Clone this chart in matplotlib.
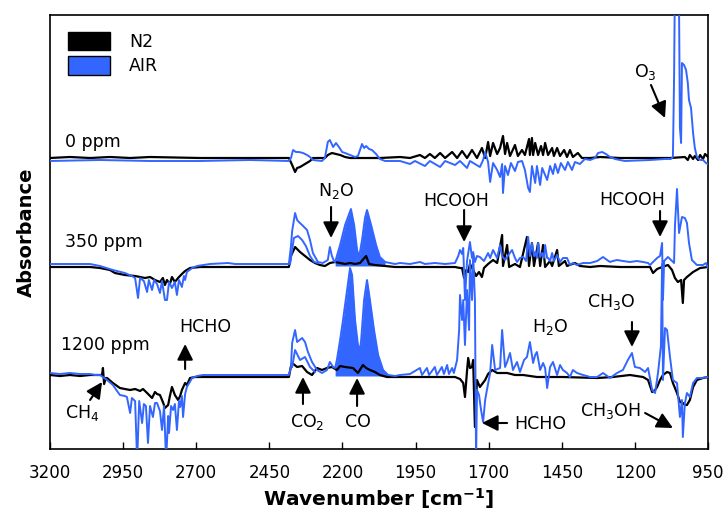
import numpy as np
import matplotlib.pyplot as plt
from matplotlib.patches import Patch

plt.rcParams['font.family'] = 'DejaVu Sans'
plt.rcParams['mathtext.default'] = 'regular'

BLUE = '#3366ff'

# columns: wavenumber [cm-1], absorbance [mAU] relative to the trace baseline
n2_0ppm = np.array([
    (3200, 0), (3132, 1), (3063, 0), (2995, 1), (2926, 0), (2858, 1), (2687, 0), (2516, 0),
    (2383, 0), (2372, -7), (2362, -14), (2355, -10), (2345, -9), (2328, -6), (2311, -3),
    (2301, 0), (2260, 0), (2250, 3), (2236, 5), (2222, 4), (2208, 3), (2191, 1), (2174, 0),
    (2072, 0), (2003, 1), (1969, 0), (1935, 3), (1918, 0), (1901, 4), (1884, 0), (1866, 5),
    (1849, 0), (1825, 6), (1808, 0), (1791, 7), (1774, 0), (1757, 8), (1740, 0), (1723, 10),
    (1712, 0), (1702, 16), (1695, 2), (1685, 15), (1671, 4), (1661, 10), (1651, 22), (1644, 4),
    (1637, 15), (1627, 2), (1610, 13), (1600, 2), (1586, 8), (1576, 3), (1562, 19), (1559, 3),
    (1552, 20), (1548, 3), (1541, 15), (1531, 3), (1521, 12), (1514, 3), (1507, 15), (1497, 3),
    (1483, 10), (1477, 2), (1466, 10), (1456, 2), (1442, 8), (1432, 1), (1422, 8), (1412, 1),
    (1395, 5), (1381, 0), (1353, 0), (1319, 1), (1251, 0), (1148, 0), (1080, 0), (1029, 1),
    (1019, -2), (1012, 3), (1001, -1), (995, 2), (984, -2), (977, 3), (967, -1), (960, 4), (950, 1),
])

air_0ppm = np.array([
    (3200, -3), (3029, -2), (2858, -3), (2687, -3), (2516, -2), (2383, -3), (2376, 0), (2369, 8),
    (2359, 6), (2349, 6), (2335, 5), (2321, 3), (2311, 1), (2301, -2), (2270, -3), (2260, 0),
    (2250, 16), (2243, 18), (2232, 11), (2222, 15), (2212, 11), (2201, 6), (2191, 5), (2174, 3),
    (2157, 1), (2147, 2), (2133, 14), (2126, 10), (2119, 12), (2109, 9), (2099, 8), (2085, 4),
    (2072, -1), (2054, -3), (2003, -3), (1969, -6), (1952, -3), (1918, -8), (1901, -3), (1866, -9),
    (1849, -3), (1815, -7), (1798, -3), (1774, -10), (1764, -3), (1730, -9), (1719, -2), (1712, 6),
    (1702, -4), (1695, -24), (1685, -5), (1671, -12), (1661, -19), (1654, -6), (1651, -35),
    (1644, -8), (1634, -17), (1624, -5), (1610, -13), (1600, -4), (1586, -3), (1576, -12),
    (1565, -30), (1559, -34), (1552, -8), (1541, -25), (1535, -8), (1524, -27), (1517, -10),
    (1500, -22), (1490, -8), (1480, -16), (1473, -6), (1463, -15), (1453, -5), (1439, -12),
    (1429, -4), (1415, -12), (1405, -4), (1388, -6), (1371, -1), (1353, -2), (1336, 0), (1326, 5),
    (1312, 6), (1299, 4), (1285, 1), (1268, -1), (1234, -3), (1148, -2), (1097, -1), (1077, -1),
    (1070, 1), (1066, 80), (1063, 180), (1053, 180), (1049, 150), (1046, 30), (1042, 15),
    (1039, 95), (1032, 93), (1025, 88), (1019, 75), (1015, 58), (1008, 50), (1001, 25), (995, 10),
    (988, 1), (977, -2), (967, -2), (957, -5), (950, -6),
])

n2_350ppm = np.array([
    (3200, -1), (3063, -1), (3029, -2), (2995, -4), (2978, -7), (2944, -9), (2909, -10),
    (2875, -12), (2858, -11), (2841, -14), (2824, -16), (2814, -12), (2807, -19), (2800, -14),
    (2790, -18), (2783, -11), (2773, -16), (2762, -12), (2749, -8), (2738, -5), (2721, -2),
    (2687, -1), (2516, -1), (2383, -1), (2376, 10), (2362, 19), (2345, 14), (2328, 10), (2311, 6),
    (2294, 3), (2277, 1), (2260, 0), (2243, 3), (2225, 4), (2208, 3), (2191, 2), (2174, 3),
    (2157, 2), (2140, 3), (2119, 10), (2109, 2), (2089, 1), (2054, 0), (2020, -1), (1935, -1),
    (1866, -1), (1815, -1), (1798, -2), (1791, -2), (1784, -12), (1777, -4), (1770, -6),
    (1764, 2), (1753, -4), (1743, -10), (1733, -6), (1723, -11), (1716, -2), (1702, 2), (1685, 6),
    (1671, 3), (1654, 31), (1651, 0), (1637, 21), (1630, -1), (1610, 2), (1593, -1), (1569, 29),
    (1562, 0), (1552, 23), (1545, 0), (1531, 23), (1524, 0), (1514, 21), (1507, -1), (1490, 5),
    (1483, 0), (1466, 16), (1460, 0), (1439, 5), (1432, 0), (1405, 3), (1388, 0), (1353, -1),
    (1319, 0), (1251, -1), (1183, -1), (1148, -1), (1138, -7), (1124, -3), (1107, -1), (1087, 1),
    (1073, -4), (1063, -12), (1053, -16), (1042, -14), (1036, -37), (1032, -14), (1022, -11),
    (1001, -6), (977, -2), (950, -1),
])

air_350ppm = np.array([
    (3200, 2), (3063, 2), (3029, 0), (2985, -4), (2944, -7), (2920, -10), (2909, -12),
    (2899, -32), (2892, -12), (2879, -15), (2868, -26), (2862, -14), (2851, -24), (2844, -14),
    (2834, -18), (2824, -27), (2817, -15), (2807, -34), (2800, -34), (2793, -16), (2783, -22),
    (2773, -16), (2766, -29), (2759, -14), (2749, -21), (2742, -10), (2738, -14), (2732, -6),
    (2714, -2), (2697, 0), (2653, 2), (2591, 3), (2567, 2), (2516, 2), (2383, 2), (2376, 20),
    (2372, 35), (2362, 53), (2355, 46), (2349, 44), (2338, 41), (2328, 38), (2321, 36),
    (2311, 26), (2301, 13), (2284, 4), (2267, 3), (2250, 6), (2243, 19), (2236, 10), (2229, 5),
    (2225, 4), (2208, 21), (2191, 41), (2171, 57), (2160, 41), (2150, 16), (2143, 9), (2133, 26),
    (2123, 48), (2116, 56), (2102, 41), (2085, 21), (2072, 9), (2054, 4), (2037, 3), (2020, 2),
    (2003, 3), (1969, 2), (1935, 4), (1918, 2), (1884, 3), (1849, 2), (1815, 3), (1804, 10),
    (1798, 16), (1791, 12), (1787, 18), (1781, -34), (1774, 5), (1764, 24), (1757, 8),
    (1753, 14), (1747, 4), (1740, 10), (1730, 9), (1716, 5), (1702, 13), (1695, 8), (1685, 16),
    (1671, 8), (1661, 21), (1654, 10), (1644, 6), (1630, 12), (1620, 16), (1610, 8), (1603, 4),
    (1593, 8), (1582, 9), (1572, 5), (1565, 29), (1559, 10), (1552, 23), (1545, 10), (1541, 14),
    (1535, 8), (1531, 23), (1524, 9), (1517, 13), (1511, 8), (1507, 21), (1500, 8), (1497, 8),
    (1490, 5), (1483, 13), (1477, 5), (1466, 11), (1456, 4), (1446, 8), (1432, 8), (1422, 1),
    (1412, 3), (1398, 1), (1377, 3), (1353, 3), (1329, 5), (1309, 9), (1295, 6), (1285, 4),
    (1275, 5), (1261, 6), (1241, 5), (1217, 4), (1193, 5), (1172, 4), (1155, 3), (1148, 1),
    (1138, 4), (1124, 8), (1114, 10), (1107, 23), (1104, -34), (1100, 5), (1087, 9), (1073, 5),
    (1066, 3), (1063, 40), (1056, 77), (1049, 33), (1039, 49), (1029, 48), (1022, 43),
    (1015, 23), (1005, 6), (988, 1), (967, 1), (957, 3), (950, -2),
])

n2_1200ppm = np.array([
    (3200, 1), (3166, 0), (3132, 1), (3097, 0), (3063, 1), (3029, 1), (3022, 1), (3019, 8),
    (3015, -8), (3009, -2), (3005, -2), (2985, -7), (2961, -12), (2944, -13), (2926, -14),
    (2909, -13), (2892, -15), (2882, -13), (2868, -17), (2851, -22), (2841, -16), (2834, -18),
    (2824, -19), (2814, -26), (2807, -32), (2796, -29), (2790, -20), (2783, -11), (2773, -19),
    (2762, -24), (2755, -20), (2749, -14), (2738, -7), (2732, -9), (2721, -2), (2704, -1),
    (2677, -1), (2516, -1), (2383, -1), (2376, 10), (2372, 13), (2355, 9), (2338, 10),
    (2321, 4), (2304, 1), (2287, 8), (2270, 6), (2253, 8), (2236, 9), (2219, 6), (2208, 10),
    (2191, 9), (2164, 8), (2147, 3), (2130, 11), (2119, 8), (2106, 6), (2089, 4), (2072, 1),
    (2048, -1), (2020, -1), (1815, -1), (1798, -3), (1787, -7), (1781, -21), (1774, 5),
    (1770, 18), (1764, 8), (1757, 9), (1753, 16), (1747, -51), (1740, -4), (1730, -11),
    (1712, -4), (1702, 2), (1688, 6), (1671, 3), (1637, 3), (1610, 1), (1582, 1), (1535, -1),
    (1446, -1), (1329, -2), (1275, -1), (1217, 1), (1172, -1), (1155, -4), (1141, -16),
    (1131, -14), (1124, -11), (1114, -4), (1104, 1), (1090, 4), (1080, 3), (1070, -7),
    (1056, -17), (1046, -26), (1036, -27), (1029, -29), (1022, -29), (1012, -24), (1001, -11),
    (988, -4), (967, -2), (950, -1),
])

air_1200ppm = np.array([
    (3200, 3), (3166, 2), (3132, 3), (3097, 2), (3063, 2), (3046, 1), (3029, 1), (3005, -4),
    (2985, -9), (2961, -19), (2944, -20), (2937, -21), (2926, -37), (2920, -22), (2909, -25),
    (2902, -85), (2895, -25), (2885, -47), (2879, -28), (2872, -30), (2865, -67), (2858, -30),
    (2848, -41), (2841, -27), (2834, -27), (2824, -35), (2817, -54), (2810, -30), (2803, -85),
    (2796, -40), (2793, -57), (2786, -30), (2779, -34), (2773, -28), (2766, -54), (2759, -25),
    (2755, -31), (2749, -20), (2745, -41), (2738, -18), (2732, -11), (2714, -2), (2697, 0),
    (2677, 1), (2629, 1), (2516, 1), (2383, 1), (2376, 9), (2372, 33), (2362, 46), (2355, 34),
    (2338, 38), (2328, 34), (2318, 24), (2304, 14), (2287, 6), (2270, 3), (2253, 6), (2243, 14),
    (2232, 9), (2225, 8), (2219, 16), (2208, 36), (2198, 56), (2184, 86), (2174, 108),
    (2167, 101), (2157, 56), (2147, 31), (2140, 26), (2136, 36), (2126, 76), (2116, 96),
    (2106, 76), (2092, 46), (2078, 21), (2061, 6), (2044, 1), (2020, 0), (2003, 1), (1969, 2),
    (1935, 8), (1928, 1), (1911, 8), (1904, 1), (1884, 9), (1877, 1), (1860, 9), (1853, 2),
    (1842, 11), (1836, 2), (1825, 8), (1819, 3), (1808, 16), (1801, 46), (1798, 81), (1791, 56),
    (1787, 76), (1781, 31), (1774, 86), (1767, 46), (1764, 116), (1757, 76), (1753, 121),
    (1747, 76), (1743, -85), (1740, -14), (1733, -19), (1726, -34), (1719, -46), (1712, -24),
    (1706, -14), (1695, 3), (1688, 31), (1678, 6), (1661, 8), (1654, 46), (1644, 9), (1637, 14),
    (1627, 23), (1617, 6), (1603, 14), (1593, 4), (1579, 16), (1569, 19), (1559, 34), (1548, 13),
    (1541, 21), (1535, 24), (1524, 6), (1514, 13), (1507, 8), (1500, -12), (1490, 9), (1480, 14),
    (1466, 1), (1456, 11), (1446, 6), (1432, 3), (1422, -1), (1412, 6), (1398, 3), (1377, 1),
    (1353, -1), (1329, -1), (1309, 3), (1285, -2), (1261, 3), (1241, 6), (1224, 16), (1210, 23),
    (1200, 9), (1183, 8), (1165, 4), (1155, 8), (1141, -14), (1131, -17), (1121, 3), (1111, 30),
    (1107, 112), (1104, -4), (1097, 48), (1090, 46), (1080, 19), (1070, -4), (1056, -7),
    (1046, -41), (1039, -24), (1036, -61), (1029, -27), (1022, -17), (1012, -21), (1001, -7),
    (988, -2), (971, -2), (950, -1),
])

# lower edge of the CO2 band in AIR (drawn as an outline)
co2_inner_350ppm = np.array([(2379, 2), (2366, 28), (2352, 30), (2338, 26), (2325, 20),
                             (2311, 10), (2297, 4), (2284, 3)])
co2_inner_1200ppm = np.array([(2372, 9), (2362, 26), (2345, 16), (2328, 19), (2311, 9),
                              (2294, 4)])

fig = plt.figure(figsize=(7.27, 5.14), dpi=100)
ax = fig.add_axes([50 / 727, 65 / 514, 658 / 727, 434 / 514])

# (N2, AIR, CO2 inner edge, vertical offset, fill CO band)
traces = [
    (n2_0ppm, air_0ppm, None, 291, False),
    (n2_350ppm, air_350ppm, co2_inner_350ppm, 183, True),
    (n2_1200ppm, air_1200ppm, co2_inner_1200ppm, 73, True),
]

for n2, air, inner, off, fill_co in traces:
    ax.plot(n2[:, 0], n2[:, 1] + off, color='black', lw=1.6, zorder=3)
    ax.plot(air[:, 0], air[:, 1] + off, color=BLUE, lw=1.4, zorder=4)
    if inner is not None:
        ax.plot(inner[:, 0], inner[:, 1] + off, color=BLUE, lw=1.4, zorder=4)
    if fill_co:
        band = (air[:, 0] <= 2226) & (air[:, 0] >= 2044)
        ax.fill_between(air[band, 0], off, air[band, 1] + off, color=BLUE, lw=0, zorder=2)

ax.set_xlim(3200, 950)
ax.set_ylim(0, 434)
ax.set_xticks(np.arange(3200, 949, -250))
ax.set_yticks([])
ax.tick_params(axis='x', direction='in', length=5, width=1, pad=11, labelsize=12)
for s in ax.spines.values():
    s.set_linewidth(1.2)

ax.set_xlabel(r'Wavenumber [cm$^{\mathbf{-1}}$]', fontsize=14.5, fontweight='bold', labelpad=3)
ax.set_ylabel('Absorbance', fontsize=14, fontweight='bold', labelpad=10)

# concentration labels
for txt, x, y in [('0 ppm', 3149, 307), ('350 ppm', 3149, 207), ('1200 ppm', 3162, 104)]:
    ax.text(x, y, txt, fontsize=12.5, ha='left', va='center')

# species labels with arrows: text, text pos, arrow tail, arrow tip
notes = [
    (r'O$_3$', (1165, 377), (1145, 364), (1097, 331)),
    (r'N$_2$O', (2222, 258), (2239, 242), (2239, 211)),
    ('HCOOH', (1812, 248), (1784, 239), (1784, 207)),
    ('HCOOH', (1210, 249), (1114, 238), (1114, 212)),
    ('HCHO', (2670, 122), (2738, 80), (2738, 105)),
    (r'CH$_4$', (3091, 36), (3063, 49), (3022, 67)),
    (r'CO$_2$', (2321, 27), (2335, 45), (2335, 72)),
    ('CO', (2147, 27), (2150, 43), (2150, 71)),
    (r'H$_2$O', (1490, 122), None, None),
    (r'CH$_3$O', (1282, 147), (1210, 127), (1210, 102)),
    ('HCHO', (1524, 25), (1637, 26), (1723, 26)),
    (r'CH$_3$OH', (1285, 38), (1165, 36), (1070, 21)),
]
for txt, pos, tail, tip in notes:
    ax.text(pos[0], pos[1], txt, fontsize=12.5, ha='center', va='center', zorder=6)
    if tail is not None:
        ax.annotate('', xy=tip, xytext=tail, zorder=6,
                    arrowprops=dict(arrowstyle='-|>', color='black', lw=1.5,
                                    mutation_scale=24, shrinkA=0, shrinkB=0))

handles = [Patch(facecolor='black', edgecolor='black', lw=1),
           Patch(facecolor=BLUE, edgecolor='black', lw=1)]
ax.legend(handles, ['N2', 'AIR'], loc='upper left', bbox_to_anchor=(18 / 658, 1 - 17 / 434),
          frameon=False, fontsize=12.5, handlelength=2.4, handleheight=1.25,
          handletextpad=1.1, labelspacing=0.3, borderpad=0, borderaxespad=0)

fig.savefig('out.png', dpi=100)
